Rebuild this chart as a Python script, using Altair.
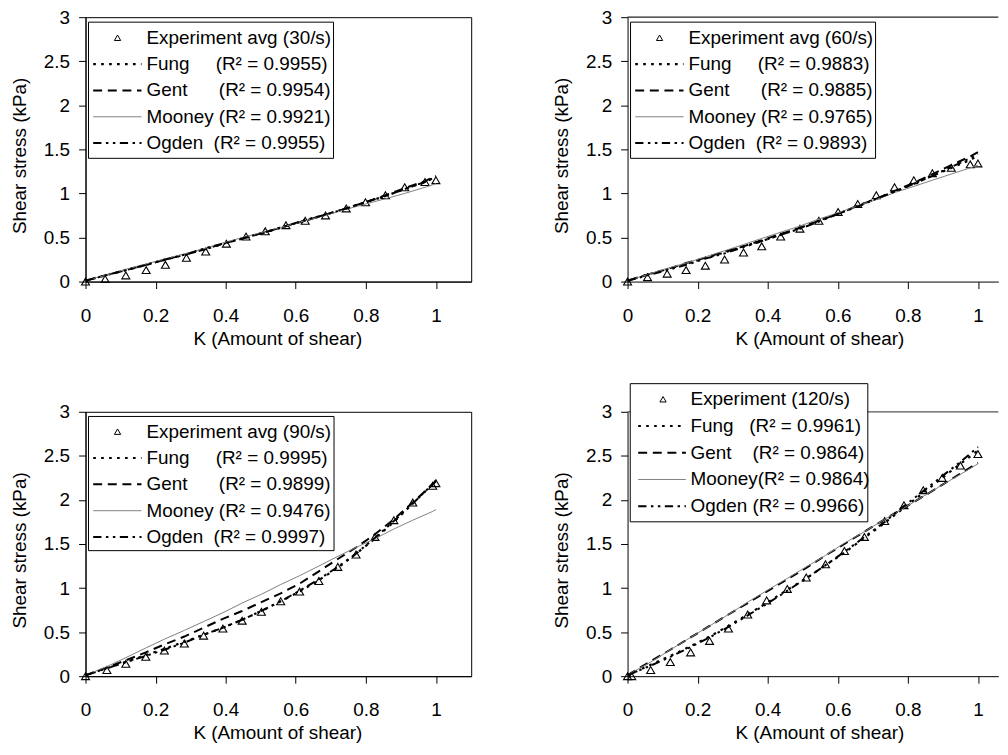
import altair as alt
import pandas as pd

# ---------------- data ----------------
models = ["Fung", "Gent", "Mooney", "Ogden"]

# 30/s
k30 = [0, 0.056, 0.115, 0.173, 0.228, 0.288, 0.343, 0.402, 0.458, 0.513, 0.572, 0.627, 0.685, 0.744, 0.799, 0.856, 0.911, 0.969, 1.0]
exp30 = [0, 0.03, 0.07, 0.13, 0.19, 0.27, 0.34, 0.43, 0.51, 0.57, 0.64, 0.69, 0.75, 0.83, 0.90, 0.98, 1.07, 1.13, 1.15]
fung30 = [0.01, 0.07, 0.13, 0.19, 0.25, 0.31, 0.37, 0.44, 0.50, 0.56, 0.63, 0.69, 0.76, 0.83, 0.90, 0.97, 1.05, 1.13, 1.19]
gent30 = [0.01, 0.07, 0.13, 0.19, 0.25, 0.31, 0.37, 0.44, 0.50, 0.56, 0.63, 0.69, 0.76, 0.83, 0.90, 0.98, 1.06, 1.14, 1.20]
mooney30 = [0.01, 0.07, 0.14, 0.20, 0.26, 0.32, 0.38, 0.45, 0.51, 0.57, 0.63, 0.69, 0.75, 0.82, 0.88, 0.94, 1.00, 1.07, 1.11]
ogden30 = [0.01, 0.07, 0.13, 0.19, 0.25, 0.31, 0.38, 0.44, 0.50, 0.56, 0.63, 0.70, 0.76, 0.83, 0.90, 0.97, 1.05, 1.13, 1.19]
labels30 = ["Experiment avg (30/s)",
            "Fung\u00a0\u00a0\u00a0\u00a0\u00a0(R² = 0.9955)",
            "Gent\u00a0\u00a0\u00a0\u00a0\u00a0\u00a0(R² = 0.9954)",
            "Mooney (R² = 0.9921)",
            "Ogden\u00a0\u00a0(R² = 0.9955)"]

# 60/s
k60 = [0, 0.057, 0.113, 0.167, 0.222, 0.277, 0.331, 0.383, 0.437, 0.492, 0.546, 0.601, 0.657, 0.710, 0.762, 0.817, 0.870, 0.924, 0.978, 1.0]
exp60 = [0, 0.05, 0.09, 0.13, 0.18, 0.25, 0.33, 0.40, 0.51, 0.60, 0.69, 0.79, 0.88, 0.98, 1.07, 1.15, 1.23, 1.29, 1.33, 1.34]
fung60 = [0.01, 0.08, 0.14, 0.20, 0.27, 0.33, 0.40, 0.46, 0.53, 0.61, 0.69, 0.77, 0.86, 0.94, 1.02, 1.11, 1.20, 1.29, 1.38, 1.43]
gent60 = [0.01, 0.08, 0.14, 0.21, 0.27, 0.34, 0.40, 0.47, 0.54, 0.61, 0.69, 0.77, 0.86, 0.94, 1.03, 1.12, 1.22, 1.32, 1.42, 1.47]
mooney60 = [0.01, 0.08, 0.15, 0.21, 0.28, 0.35, 0.42, 0.49, 0.56, 0.63, 0.71, 0.78, 0.86, 0.93, 1.01, 1.08, 1.15, 1.22, 1.29, 1.32]
ogden60 = [0.01, 0.07, 0.13, 0.19, 0.26, 0.32, 0.39, 0.46, 0.53, 0.60, 0.68, 0.77, 0.85, 0.94, 1.02, 1.11, 1.20, 1.30, 1.40, 1.45]
labels60 = ["Experiment avg (60/s)",
            "Fung\u00a0\u00a0\u00a0\u00a0\u00a0(R² = 0.9883)",
            "Gent\u00a0\u00a0\u00a0\u00a0\u00a0\u00a0(R² = 0.9885)",
            "Mooney (R² = 0.9765)",
            "Ogden\u00a0\u00a0(R² = 0.9893)"]

# 90/s
k90 = [0, 0.061, 0.115, 0.172, 0.225, 0.282, 0.337, 0.392, 0.447, 0.502, 0.557, 0.611, 0.666, 0.720, 0.772, 0.826, 0.880, 0.934, 0.991, 1.0]
exp90 = [0, 0.07, 0.14, 0.22, 0.29, 0.37, 0.46, 0.54, 0.63, 0.73, 0.85, 0.96, 1.08, 1.24, 1.38, 1.58, 1.77, 1.97, 2.16, 2.19]
fung90 = [0.01, 0.09, 0.16, 0.24, 0.31, 0.39, 0.47, 0.55, 0.64, 0.74, 0.85, 0.96, 1.09, 1.23, 1.39, 1.56, 1.75, 1.96, 2.18, 2.22]
gent90 = [0.01, 0.10, 0.18, 0.27, 0.36, 0.45, 0.55, 0.65, 0.74, 0.84, 0.94, 1.05, 1.19, 1.33, 1.46, 1.61, 1.78, 1.97, 2.18, 2.22]
mooney90 = [0.01, 0.11, 0.21, 0.32, 0.42, 0.52, 0.62, 0.72, 0.83, 0.93, 1.04, 1.14, 1.25, 1.36, 1.46, 1.56, 1.67, 1.77, 1.87, 1.89]
ogden90 = [0.01, 0.09, 0.16, 0.23, 0.30, 0.38, 0.47, 0.55, 0.64, 0.74, 0.85, 0.97, 1.10, 1.24, 1.39, 1.57, 1.76, 1.96, 2.18, 2.21]
labels90 = ["Experiment avg (90/s)",
            "Fung\u00a0\u00a0\u00a0\u00a0\u00a0(R² = 0.9995)",
            "Gent\u00a0\u00a0\u00a0\u00a0\u00a0\u00a0(R² = 0.9899)",
            "Mooney (R² = 0.9476)",
            "Ogden\u00a0\u00a0(R² = 0.9997)"]

# 120/s
k120 = [0, 0.012, 0.066, 0.122, 0.180, 0.234, 0.288, 0.343, 0.397, 0.456, 0.510, 0.565, 0.619, 0.676, 0.734, 0.789, 0.844, 0.898, 0.950, 1.0]
exp120 = [0, 0.0, 0.07, 0.16, 0.27, 0.40, 0.54, 0.70, 0.86, 0.99, 1.12, 1.27, 1.42, 1.58, 1.76, 1.94, 2.11, 2.25, 2.39, 2.52]
fung120 = [0.01, 0.03, 0.13, 0.23, 0.34, 0.45, 0.57, 0.70, 0.83, 0.98, 1.11, 1.26, 1.40, 1.57, 1.74, 1.91, 2.08, 2.25, 2.41, 2.56]
gent120 = [0.01, 0.04, 0.17, 0.30, 0.44, 0.57, 0.70, 0.83, 0.96, 1.10, 1.23, 1.37, 1.50, 1.64, 1.78, 1.91, 2.04, 2.17, 2.30, 2.42]
mooney120 = [0.01, 0.04, 0.16, 0.30, 0.44, 0.57, 0.70, 0.84, 0.97, 1.11, 1.24, 1.37, 1.51, 1.64, 1.78, 1.91, 2.04, 2.17, 2.29, 2.41]
ogden120 = [0.01, 0.03, 0.12, 0.22, 0.33, 0.44, 0.56, 0.69, 0.82, 0.97, 1.11, 1.26, 1.41, 1.58, 1.75, 1.93, 2.10, 2.27, 2.43, 2.60]
labels120 = ["Experiment (120/s)",
             "Fung\u00a0\u00a0\u00a0(R² = 0.9961)",
             "Gent\u00a0\u00a0\u00a0\u00a0(R² = 0.9864)",
             "Mooney(R² = 0.9864)",
             "Ogden (R² = 0.9966)"]

x_ticks = [0, 0.2, 0.4, 0.6, 0.8, 1]
y_ticks = [0, 0.5, 1, 1.5, 2, 2.5, 3]

# ---------------- styling ----------------
FONT = "Liberation Sans"
FS = 19
H = 266
PX_PER_UNIT = 352.5

STYLE = {
    "Fung": dict(color="black", strokeWidth=2.2, strokeDash=[2.7, 5.3]),
    "Gent": dict(color="black", strokeWidth=2, strokeDash=[9, 5.7]),
    "Mooney": dict(color="#808080", strokeWidth=1),
    "Ogden": dict(color="black", strokeWidth=2, strokeDash=[8.3, 4.5, 2.5, 4.5, 2.5, 4.5]),
}

one = pd.DataFrame({"o": [0]})


def make_panel(k, exp, fits, labels, width, leg, framed, rule_color=None):
    xmax = width / PX_PER_UNIT
    df = pd.DataFrame({"K": k, "Experiment": exp, **dict(zip(models, fits))})
    xenc = alt.X(
        "K:Q",
        scale=alt.Scale(domain=[0, xmax], nice=False, zero=False),
        axis=alt.Axis(values=x_ticks, format="~g", title="K (Amount of shear)",
                      tickSize=7, labelPadding=18, labelFlush=False,
                      titleX=193, titleY=48, titleAlign="center", titleBaseline="top"),
    )
    yscale = alt.Scale(domain=[0, 3], nice=False, zero=False)
    yaxis = alt.Axis(values=y_ticks, format="~g", title="Shear stress (kPa)",
                     tickSize=7, labelPadding=9, labelFlush=False,
                     titleAngle=270, titleX=-60, titleY=139,
                     titleAlign="center", titleBaseline="alphabetic")

    layers = []
    if rule_color:
        layers.append(alt.Chart(one).mark_rule(color=rule_color, strokeWidth=1.3).encode(
            x=alt.value(0), x2=alt.value(width), y=alt.value(0)))

    base = alt.Chart(df)
    layers.append(base.mark_point(shape="triangle-up", filled=False, color="black",
                                  strokeWidth=1.1, size=64, opacity=1).encode(
        x=xenc, y=alt.Y("Experiment:Q", scale=yscale, axis=yaxis)))
    for m in models:
        layers.append(base.mark_line(**STYLE[m]).encode(
            x=xenc, y=alt.Y(f"{m}:Q", scale=yscale, axis=yaxis)))

    # legend box
    bx0, by0, bx1, by1 = leg["box"]
    rows = leg["rows"]
    lx0, lx1 = leg["line"]
    layers.append(alt.Chart(one).mark_rect(fill="white", stroke="black", strokeWidth=1).encode(
        x=alt.value(bx0), x2=alt.value(bx1), y=alt.value(by0), y2=alt.value(by1)))
    layers.append(alt.Chart(one).mark_point(shape="triangle-up", filled=False, color="black",
                                            strokeWidth=1, size=40, opacity=1).encode(
        x=alt.value(leg["tri"]), y=alt.value(rows[0])))
    for i, m in enumerate(models):
        layers.append(alt.Chart(one).mark_rule(**STYLE[m]).encode(
            x=alt.value(lx0), x2=alt.value(lx1), y=alt.value(rows[i + 1])))
    for i, lab in enumerate(labels):
        layers.append(alt.Chart(one).mark_text(align="left", baseline="middle", font=FONT,
                                               fontSize=FS, color="black").encode(
            x=alt.value(leg["text"]), y=alt.value(rows[i]), text=alt.value(lab)))

    view = (alt.ViewBackground(stroke="black", strokeWidth=1) if framed
            else alt.ViewBackground(stroke="transparent"))
    return alt.layer(*layers).properties(width=width, height=H, view=view)


def rows_from(start, step):
    return [start + i * step for i in range(5)]


leg_top = dict(box=(3, 5, 249.5, 142), rows=rows_from(20.7, 26.5), line=(7.7, 56.3), tri=32.2, text=61.3)
leg_bl = dict(box=(3, 4.7, 250, 139.7), rows=rows_from(20, 26.5), line=(7.7, 56.3), tri=32.2, text=61.3)
leg_br = dict(box=(2.7, -28.3, 241.7, 110.7), rows=rows_from(-12.6, 26.9), line=(10.7, 58.7), tri=35.7, text=63.4)

p1 = make_panel(k30, exp30, [fung30, gent30, mooney30, ogden30], labels30, 388, leg_top, True)
p2 = make_panel(k60, exp60, [fung60, gent60, mooney60, ogden60], labels60, 373, leg_top, False, "#222222")
p3 = make_panel(k90, exp90, [fung90, gent90, mooney90, ogden90], labels90, 388, leg_bl, True)
p4 = make_panel(k120, exp120, [fung120, gent120, mooney120, ogden120], labels120, 373, leg_br, False, "#555555")

chart = alt.concat(
    p1, p2, p3, p4, columns=2,
    spacing={"row": 131, "column": 157.3},
    bounds="flush", align="each",
).properties(
    padding={"left": 2, "top": -3, "right": 0, "bottom": 0},
    background="white",
).configure_axis(
    domainColor="black", domainWidth=1, tickColor="black", tickWidth=1,
    labelFont=FONT, labelFontSize=FS, labelColor="black",
    titleFont=FONT, titleFontSize=FS, titleFontWeight="normal", titleColor="black",
    grid=False, labelOverlap=False,
)

chart.save("out.html", embed_options={"renderer": "svg", "actions": False})
